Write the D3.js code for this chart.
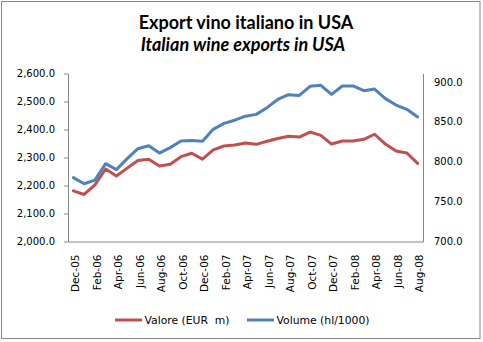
<!DOCTYPE html>
<html><head><meta charset="utf-8">
<script src="https://cdn.jsdelivr.net/npm/d3@7"></script>
<style>body{margin:0;background:#fff}svg{display:block}</style>
</head><body>
<svg id="c" width="483" height="342"></svg>
<script>
const months = ["Dec-05","Jan-06","Feb-06","Mar-06","Apr-06","May-06","Jun-06","Jul-06","Aug-06","Sep-06","Oct-06","Nov-06","Dec-06","Jan-07","Feb-07","Mar-07","Apr-07","May-07","Jun-07","Jul-07","Aug-07","Sep-07","Oct-07","Nov-07","Dec-07","Jan-08","Feb-08","Mar-08","Apr-08","May-08","Jun-08","Jul-08","Aug-08"];
const valore = [2181,2168,2202,2259,2234,2262,2289,2294,2270,2276,2303,2315,2294,2327,2341,2345,2352,2347,2358,2368,2376,2373,2391,2379,2348,2359,2359,2365,2383,2348,2323,2316,2279];
const volume = [780,772.4,777,797.5,790,803.8,816.3,820,810.8,817.6,826,826.7,825.5,840.5,848,852,857,859.3,867.7,878,884,883,894.5,895.7,884.4,894.9,894.9,889,891,879,871,865.6,856];
const leftTicks = [2000,2100,2200,2300,2400,2500,2600];
const rightTicks = [700,750,800,850,900];
const titles = ["Export vino italiano in USA","Italian wine exports in USA"];
const seriesNames = ["Valore (EUR  m)","Volume (hl/1000)"];
const colors = ["#C0504D","#4F81BD"];

const svg = d3.select("#c");
const L = 68, R = 423, T = 73.5, B = 241.5;
const axisCol = "#868686";
const font = "DejaVu Sans, sans-serif";

svg.append("rect").attr("x",1.5).attr("y",1.5).attr("width",478.5).attr("height",337)
  .attr("fill","#fff").attr("stroke",axisCol).attr("stroke-width",1);

const x = d3.scaleBand().domain(months).range([L,R]).padding(0);
const yL = d3.scaleLinear().domain([2000,2600]).range([B,T]);
const yR = d3.scaleLinear().domain([700,910.5]).range([B,T]);

// titles
svg.append("text").attr("x",246).attr("y",28.5).attr("text-anchor","middle")
  .style("font-family","Lato, sans-serif").style("font-weight","bold").style("font-size","18px")
  .attr("fill","#000").text(titles[0]);
svg.append("text").attr("x",243).attr("y",50.5).attr("text-anchor","middle")
  .style("font-family","Lato, sans-serif").style("font-weight","bold").style("font-style","italic").style("font-size","18px")
  .attr("fill","#000").text(titles[1]);

// left axis
const gl = svg.append("g").attr("transform",`translate(${L},0)`)
  .call(d3.axisLeft(yL).tickValues(leftTicks).tickSize(4).tickSizeOuter(0).tickPadding(9).tickFormat(d3.format(",.1f")));
gl.select(".domain").attr("stroke",axisCol);
gl.selectAll(".tick line").attr("stroke",axisCol);
gl.selectAll("text").style("font-family",font).style("font-size","10px").attr("fill","#000");

// right axis
const gr = svg.append("g").attr("transform",`translate(${R},0)`)
  .call(d3.axisRight(yR).tickValues(rightTicks).tickSize(0).tickSizeOuter(0).tickPadding(11).tickFormat(d3.format(".1f")));
gr.select(".domain").attr("stroke",axisCol);
gr.selectAll("text").style("font-family",font).style("font-size","10px").attr("fill","#000");

// bottom axis
const gb = svg.append("g").attr("transform",`translate(0,${B})`)
  .call(d3.axisBottom(x).tickValues(months.filter((d,i)=>i%2===0)).tickSize(0).tickSizeOuter(0));
gb.select(".domain").attr("stroke",axisCol);
gb.selectAll("text").style("font-family",font).style("font-size","10.5px").attr("fill","#000")
  .attr("text-anchor","end")
  .attr("x",-13).attr("y",0).attr("dy","0.32em")
  .attr("transform","translate(2.5,0) rotate(-90)");

// lines
const lineL = d3.line().x((d,i)=>x(months[i])+x.bandwidth()/2).y(d=>yL(d));
const lineR = d3.line().x((d,i)=>x(months[i])+x.bandwidth()/2).y(d=>yR(d));
svg.append("path").datum(valore).attr("d",lineL).attr("fill","none").attr("stroke",colors[0]).attr("stroke-width",3).attr("stroke-linejoin","round").attr("stroke-linecap","round");
svg.append("path").datum(volume).attr("d",lineR).attr("fill","none").attr("stroke",colors[1]).attr("stroke-width",3).attr("stroke-linejoin","round").attr("stroke-linecap","round");

// legend
const legX = [115, 247];
seriesNames.forEach((n,i)=>{
  svg.append("line").attr("x1",legX[i]).attr("x2",legX[i]+27).attr("y1",320).attr("y2",320)
    .attr("stroke",colors[i]).attr("stroke-width",3);
  svg.append("text").attr("x",legX[i]+29.5).attr("y",320).attr("dy","0.35em")
    .style("font-family",font).style("font-size","10.8px").attr("fill","#000")
    .style("white-space","pre").attr("xml:space","preserve").text(n);
});
</script>
</body></html>
